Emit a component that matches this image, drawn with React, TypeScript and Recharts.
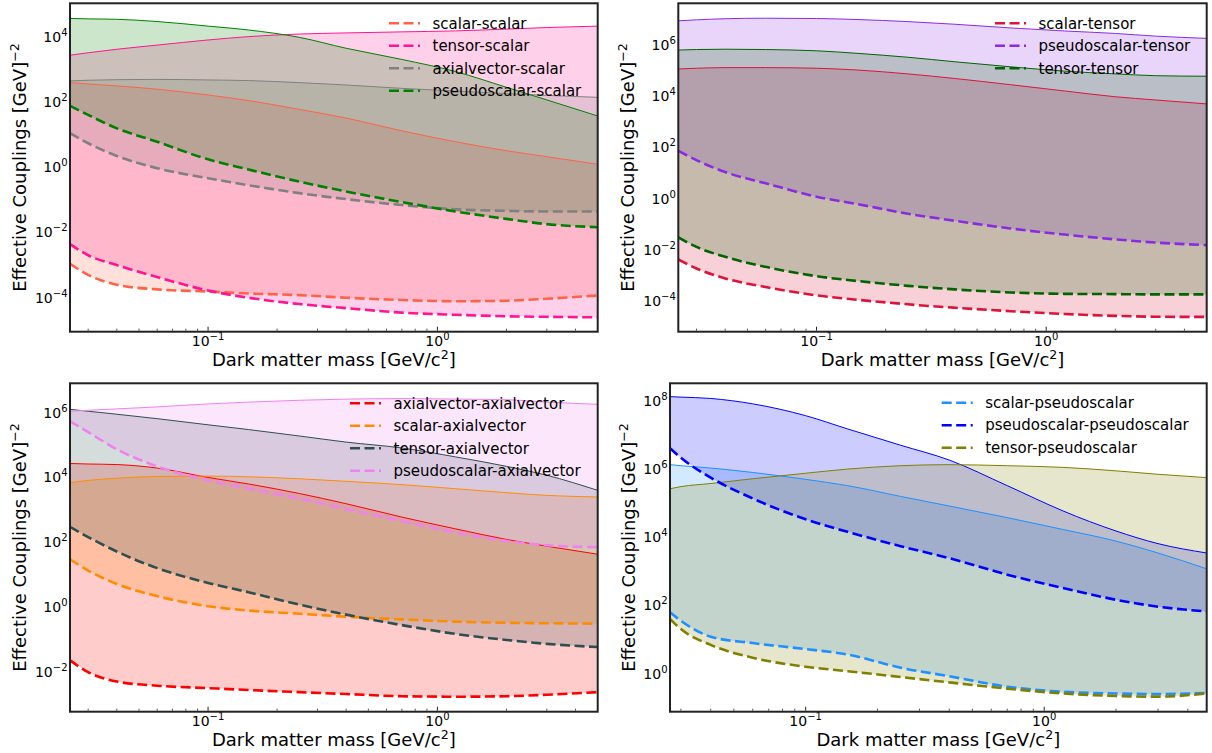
import React from "react";
import { ComposedChart, Area, Line, XAxis, YAxis } from "recharts";

const FONT = "'DejaVu Sans', sans-serif";

const massGrid = [0.025, 0.03, 0.04, 0.06, 0.1, 0.15, 0.25, 0.4, 0.7, 1.2, 2, 3, 5];
const massGridPseudo = [0.027, 0.03, 0.04, 0.06, 0.1, 0.15, 0.25, 0.4, 0.7, 1.2, 2, 3, 4.8];

const majorMassTicks = [0.1, 1];
const massTicks = [0.03, 0.04, 0.05, 0.06, 0.07, 0.08, 0.09, 0.1, 0.2, 0.3, 0.4, 0.5, 0.6, 0.7, 0.8, 0.9, 1, 2, 3, 4];

// --- scalar panel
const scalarScalarLow = [1.1e-3, 5.0e-4, 2.5e-4, 1.8e-4, 1.55e-4, 1.35e-4, 1.2e-4, 1.0e-4, 8.5e-5, 7.8e-5, 8.1e-5, 9.3e-5, 1.17e-4];
const scalarScalarHigh = [390, 355, 310, 245, 163, 110, 59, 32, 13, 6.0, 3.2, 2.1, 1.23];
const tensorScalarLow = [4.4e-3, 2.0e-3, 1.0e-3, 4.3e-4, 1.66e-4, 1.0e-4, 6.4e-5, 4.8e-5, 3.5e-5, 3.0e-5, 2.7e-5, 2.6e-5, 2.5e-5];
const tensorScalarHigh = [2.7e3, 3.2e3, 4.1e3, 5.5e3, 7.9e3, 1.0e4, 1.2e4, 1.3e4, 1.4e4, 1.5e4, 1.7e4, 1.9e4, 2.1e4];
const axialScalarLow = [11, 5.4, 2.2, 0.93, 0.46, 0.28, 0.16, 0.105, 0.069, 0.051, 0.046, 0.044, 0.044];
const axialScalarHigh = [440, 460, 480, 490, 470, 450, 390, 330, 260, 215, 180, 158, 138];
const pseudoScalarLow = [76, 40, 15.5, 6.0, 1.74, 0.85, 0.36, 0.18, 0.085, 0.044, 0.026, 0.018, 0.0145];
const pseudoScalarHigh = [3.6e4, 3.5e4, 3.4e4, 2.9e4, 2.1e4, 1.6e4, 9.5e3, 4.4e3, 2.0e3, 850, 280, 115, 37];

// --- tensor panel
const scalarTensorLow = [4.3e-3, 1.9e-3, 7.8e-4, 3.6e-4, 1.7e-4, 1.15e-4, 7.6e-5, 5.6e-5, 4.1e-5, 3.2e-5, 2.7e-5, 2.5e-5, 2.45e-5];
const scalarTensorHigh = [1.15e5, 1.23e5, 1.3e5, 1.3e5, 1.23e5, 1.05e5, 7.4e4, 4.9e4, 2.8e4, 1.6e4, 9.5e3, 7.1e3, 5.0e3];
const pseudoTensorLow = [74, 32, 11, 4.0, 1.2, 0.62, 0.26, 0.138, 0.069, 0.04, 0.026, 0.0195, 0.0155];
const pseudoTensorHigh = [8.7e6, 9.5e6, 1.05e7, 1.1e7, 1.07e7, 9.8e6, 8.1e6, 6.4e6, 4.6e6, 3.5e6, 2.8e6, 2.2e6, 1.8e6];
const tensorTensorLow = [0.031, 0.0132, 5.4e-3, 2.2e-3, 9.5e-4, 6.2e-4, 4.0e-4, 2.9e-4, 2.2e-4, 1.95e-4, 1.9e-4, 1.85e-4, 1.85e-4];
const tensorTensorHigh = [6.3e5, 6.6e5, 6.8e5, 6.6e5, 5.9e5, 4.7e5, 3.3e5, 2.2e5, 1.4e5, 9.5e4, 7.4e4, 6.3e4, 6.0e4];

// --- axialvector panel
const axialAxialLow = [0.023, 0.01, 5.1e-3, 3.8e-3, 3.2e-3, 2.8e-3, 2.4e-3, 2.1e-3, 1.8e-3, 1.74e-3, 1.8e-3, 2.0e-3, 2.4e-3];
const axialAxialHigh = [2.7e4, 2.6e4, 2.5e4, 1.95e4, 1.0e4, 6.3e3, 3.2e3, 1.55e3, 600, 260, 123, 76, 43];
const scalarAxialLow = [30, 13.5, 5.2, 2.2, 1.07, 0.79, 0.63, 0.51, 0.42, 0.36, 0.33, 0.32, 0.31];
const scalarAxialHigh = [6.9e3, 8.1e3, 9.5e3, 1.07e4, 1.1e4, 1.05e4, 9.1e3, 7.6e3, 6.0e3, 4.5e3, 3.4e3, 2.8e3, 2.5e3];
const tensorAxialLow = [300, 145, 52, 16, 5.6, 2.9, 1.2, 0.59, 0.28, 0.15, 0.098, 0.074, 0.059];
const tensorAxialHigh = [1.26e6, 1.1e6, 8.9e5, 6.5e5, 4.2e5, 3.0e5, 1.9e5, 1.23e5, 8.1e4, 4.3e4, 2.2e4, 1.17e4, 4.0e3];
const pseudoAxialLow = [5.4e5, 2.5e5, 7.4e4, 2.2e4, 8.1e3, 4.5e3, 2.2e3, 1.05e3, 450, 200, 110, 81, 71];
const pseudoAxialHigh = [1.1e6, 1.18e6, 1.3e6, 1.5e6, 1.85e6, 2.1e6, 2.4e6, 2.6e6, 2.7e6, 2.6e6, 2.5e6, 2.1e6, 1.8e6];

// --- pseudoscalar panel
const scalarPseudoLow = [62, 35, 12, 7.8, 5.2, 3.6, 1.48, 0.83, 0.41, 0.29, 0.26, 0.25, 0.27];
const scalarPseudoHigh = [1.32e6, 1.23e6, 1.05e6, 7.8e5, 4.9e5, 3.2e5, 1.55e5, 8.1e4, 3.7e4, 1.66e4, 7.6e3, 3.4e3, 1.17e3];
const pseudoPseudoLow = [4.0e6, 2.1e6, 5.5e5, 1.35e5, 3.3e4, 1.42e4, 5.4e3, 2.4e3, 790, 320, 145, 91, 66];
const pseudoPseudoHigh = [1.3e8, 1.26e8, 1.15e8, 8.0e7, 3.6e7, 1.47e7, 4.9e6, 1.8e6, 3.2e5, 5.8e4, 1.5e4, 6.4e3, 3.4e3];
const tensorPseudoLow = [40, 20, 6.9, 2.9, 1.58, 1.17, 0.79, 0.55, 0.36, 0.26, 0.22, 0.21, 0.26];
const tensorPseudoHigh = [2.6e5, 3.0e5, 3.7e5, 5.1e5, 7.4e5, 9.8e5, 1.23e6, 1.32e6, 1.23e6, 1.1e6, 8.7e5, 6.9e5, 5.5e5];

type Band = { name: string; color: string; low: number[]; high: number[] };

const scalarBands: Band[] = [
  { name: "scalar-scalar", color: "#FF6347", low: scalarScalarLow, high: scalarScalarHigh },
  { name: "tensor-scalar", color: "#FF1493", low: tensorScalarLow, high: tensorScalarHigh },
  { name: "axialvector-scalar", color: "#808080", low: axialScalarLow, high: axialScalarHigh },
  { name: "pseudoscalar-scalar", color: "#008000", low: pseudoScalarLow, high: pseudoScalarHigh },
];
const tensorBands: Band[] = [
  { name: "scalar-tensor", color: "#DC143C", low: scalarTensorLow, high: scalarTensorHigh },
  { name: "pseudoscalar-tensor", color: "#8A2BE2", low: pseudoTensorLow, high: pseudoTensorHigh },
  { name: "tensor-tensor", color: "#006400", low: tensorTensorLow, high: tensorTensorHigh },
];
const axialBands: Band[] = [
  { name: "axialvector-axialvector", color: "#FF0000", low: axialAxialLow, high: axialAxialHigh },
  { name: "scalar-axialvector", color: "#FF8C00", low: scalarAxialLow, high: scalarAxialHigh },
  { name: "tensor-axialvector", color: "#2F4F4F", low: tensorAxialLow, high: tensorAxialHigh },
  { name: "pseudoscalar-axialvector", color: "#EE82EE", low: pseudoAxialLow, high: pseudoAxialHigh },
];
const pseudoBands: Band[] = [
  { name: "scalar-pseudoscalar", color: "#1E90FF", low: scalarPseudoLow, high: scalarPseudoHigh },
  { name: "pseudoscalar-pseudoscalar", color: "#0000FF", low: pseudoPseudoLow, high: pseudoPseudoHigh },
  { name: "tensor-pseudoscalar", color: "#808000", low: tensorPseudoLow, high: tensorPseudoHigh },
];

type PanelCfg = {
  box: { left: number; top: number; width: number; height: number };
  plot: { left: number; top: number; width: number; height: number };
  masses: number[];
  xDomain: [number, number];
  yDomain: [number, number];
  yTicks: number[];
  bands: Band[];
  legend: { left: number; top: number };
  ylabelGap: number;
};

const panels: PanelCfg[] = [
  {
    box: { left: 0, top: 0, width: 606, height: 376 },
    plot: { left: 70, top: 3.3, width: 527.7, height: 328.4 },
    masses: massGrid,
    xDomain: [0.025, 5],
    yDomain: [9.1e-6, 1.05e5],
    yTicks: [1e-4, 1e-2, 1, 1e2, 1e4],
    bands: scalarBands,
    legend: { left: 389, top: 23.3 },
    ylabelGap: 44,
  },
  {
    box: { left: 606, top: 0, width: 606, height: 376 },
    plot: { left: 72.3, top: 3.3, width: 528.4, height: 328.4 },
    masses: massGrid,
    xDomain: [0.025, 5],
    yDomain: [6.5e-6, 4.2e7],
    yTicks: [1e-4, 1e-2, 1, 1e2, 1e4, 1e6],
    bands: tensorBands,
    legend: { left: 389, top: 23.3 },
    ylabelGap: 44,
  },
  {
    box: { left: 0, top: 376, width: 606, height: 377 },
    plot: { left: 70, top: 7.3, width: 527.7, height: 328.4 },
    masses: massGrid,
    xDomain: [0.025, 5],
    yDomain: [6.0e-4, 8.0e6],
    yTicks: [1e-2, 1, 1e2, 1e4, 1e6],
    bands: axialBands,
    legend: { left: 350, top: 27.3 },
    ylabelGap: 44,
  },
  {
    box: { left: 606, top: 376, width: 606, height: 377 },
    plot: { left: 64, top: 7.3, width: 536.7, height: 328.4 },
    masses: massGridPseudo,
    xDomain: [0.027, 4.8],
    yDomain: [0.076, 3.2e8],
    yTicks: [1, 1e2, 1e4, 1e6, 1e8],
    bands: pseudoBands,
    legend: { left: 335.7, top: 26.7 },
    ylabelGap: 35,
  },
];

const exponent = (v: number) => {
  const e = Math.round(Math.log10(v));
  return e < 0 ? `\u2212${-e}` : `${e}`;
};

const MassTick = (props: any) => {
  const { x, y, payload } = props;
  const v = payload.value;
  const major = majorMassTicks.some((t) => Math.abs(t - v) < 1e-9);
  return (
    <g>
      <line x1={x} x2={x} y1={y - 1} y2={y - (major ? 5 : 3)} stroke="#222" strokeWidth={major ? 1 : 0.8} />
      {major && (
        <text x={x} y={y + 14} textAnchor="middle" fontFamily={FONT} fontSize={14} fill="#000">
          10<tspan dy={-6} fontSize={10}>{exponent(v)}</tspan>
        </text>
      )}
    </g>
  );
};

const CouplingTick = (props: any) => {
  const { x, y, payload } = props;
  return (
    <text x={x - 2.5} y={y + 5} textAnchor="end" fontFamily={FONT} fontSize={14} fill="#000">
      10<tspan dy={-6} fontSize={10}>{exponent(payload.value)}</tspan>
    </text>
  );
};

const DASH = "10 4.5";

function Panel({ p }: { p: PanelCfg }) {
  const { box, plot } = p;
  const rows = p.masses.map((m, i) => {
    const row: Record<string, any> = { m };
    p.bands.forEach((b, k) => {
      row[`band${k}`] = [b.low[i], b.high[i]];
      row[`low${k}`] = b.low[i];
      row[`high${k}`] = b.high[i];
    });
    return row;
  });
  const right = box.width - plot.left - plot.width;
  const xAxisHeight = box.height - plot.top - plot.height;
  const labelY = plot.top + plot.height + 34.3;
  const ylabX = plot.left - p.ylabelGap;
  const ylabY = plot.top + plot.height / 2;

  return (
    <div style={{ position: "absolute", left: box.left, top: box.top, width: box.width, height: box.height }}>
      <ComposedChart
        width={box.width}
        height={box.height}
        data={rows}
        margin={{ top: plot.top, right, bottom: 0, left: 0 }}
      >
        <XAxis
          dataKey="m"
          type="number"
          scale="log"
          domain={p.xDomain}
          allowDataOverflow
          ticks={massTicks}
          interval={0}
          tick={<MassTick />}
          tickLine={false}
          axisLine={false}
          tickSize={0}
          tickMargin={0}
          height={xAxisHeight}
        />
        <YAxis
          type="number"
          scale="log"
          domain={p.yDomain}
          allowDataOverflow
          ticks={p.yTicks}
          interval={0}
          tick={<CouplingTick />}
          tickLine={false}
          axisLine={false}
          tickSize={0}
          tickMargin={0}
          width={plot.left}
        />
        {p.bands.map((b, k) => (
          <Area
            key={`area${k}`}
            type="monotoneX"
            dataKey={`band${k}`}
            stroke="none"
            fill={b.color}
            fillOpacity={0.2}
            isAnimationActive={false}
            activeDot={false}
            legendType="none"
          />
        ))}
        {p.bands.map((b, k) => (
          <Line
            key={`high${k}`}
            type="monotoneX"
            dataKey={`high${k}`}
            stroke={b.color}
            strokeWidth={1}
            dot={false}
            activeDot={false}
            isAnimationActive={false}
            legendType="none"
          />
        ))}
        {p.bands.map((b, k) => (
          <Line
            key={`low${k}`}
            type="monotoneX"
            dataKey={`low${k}`}
            stroke={b.color}
            strokeWidth={2.6}
            strokeDasharray={DASH}
            dot={false}
            activeDot={false}
            isAnimationActive={false}
            legendType="none"
          />
        ))}
      </ComposedChart>
      <svg
        width={box.width}
        height={box.height}
        style={{ position: "absolute", left: 0, top: 0, pointerEvents: "none", overflow: "visible" }}
      >
        <rect x={plot.left} y={plot.top} width={plot.width} height={plot.height} fill="none" stroke="#222" strokeWidth={2} />
        {p.bands.map((b, i) => (
          <g key={b.name}>
            <line
              x1={p.legend.left}
              x2={p.legend.left + 31}
              y1={p.legend.top + i * 22.5}
              y2={p.legend.top + i * 22.5}
              stroke={b.color}
              strokeWidth={2.6}
              strokeDasharray={DASH}
            />
            <text x={p.legend.left + 43.5} y={p.legend.top + i * 22.5 + 5.2} fontFamily={FONT} fontSize={15} fill="#000">
              {b.name}
            </text>
          </g>
        ))}
        <text x={plot.left + plot.width / 2} y={labelY} textAnchor="middle" fontFamily={FONT} fontSize={18} fill="#000">
          Dark matter mass [GeV/c<tspan dy={-7} fontSize={12.6}>2</tspan><tspan dy={7}>]</tspan>
        </text>
        <text
          x={ylabX}
          y={ylabY}
          transform={`rotate(-90 ${ylabX} ${ylabY})`}
          textAnchor="middle"
          fontFamily={FONT}
          fontSize={18}
          fill="#000"
        >
          Effective Couplings [GeV]<tspan dy={-7} fontSize={12.6}>{"\u22122"}</tspan>
        </text>
      </svg>
    </div>
  );
}

export default function App() {
  return (
    <div style={{ position: "absolute", left: 0, top: 0, width: 1212, height: 753, background: "#fff" }}>
      {panels.map((p, i) => (
        <Panel key={i} p={p} />
      ))}
    </div>
  );
}
